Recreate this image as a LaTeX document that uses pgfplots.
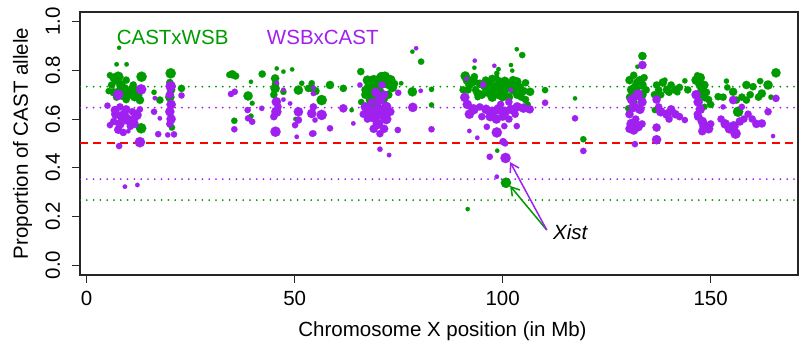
\documentclass[border=0pt]{standalone}
\usepackage{fontspec}
\setmainfont{Liberation Sans}
\usepackage{pgfplots}
\pgfplotsset{compat=1.18}
\usepackage{pgfplotstable}
\usetikzlibrary{arrows.meta}
\definecolor{cgreen}{RGB}{0,155,0}
\definecolor{cpurple}{RGB}{160,32,240}

\pgfplotstableread{
x y r
7.8 0.893 1.4
7.2 0.825 1.6
9.6 0.825 1.6
5.6 0.780 2.5
7.6 0.774 4.5
13.2 0.774 4.5
6.0 0.740 3
7.0 0.760 3.5
8.2 0.740 4
9.0 0.725 4
6.5 0.710 3.5
8.5 0.700 4.5
10.0 0.700 4
11.0 0.705 3.5
11.2 0.740 3
12.5 0.700 3
12.8 0.678 3.5
9.5 0.680 3
7.2 0.690 3
5.3 0.715 2.5
10.8 0.725 3
12.2 0.720 3
6.5 0.770 3.5
9.5 0.760 3
8.0 0.715 4
11.5 0.690 3.5
9.8 0.710 4
13.1 0.562 4.5
20.2 0.788 4.5
20.0 0.750 3
20.3 0.720 3.5
20.0 0.690 4
20.3 0.660 3.5
20.0 0.630 3
20.3 0.600 3
20.5 0.565 2.5
16.2 0.710 2
17.6 0.678 3
22.8 0.726 3
34.3 0.782 2.5
35.0 0.784 3.5
35.8 0.777 3
42.2 0.785 3
39.5 0.753 1.5
38.8 0.695 4
39.8 0.665 1.8
39.5 0.612 2
35.5 0.593 2.5
45.7 0.808 1.5
47.3 0.795 1.5
49.4 0.804 1.5
45.3 0.767 3.5
45.3 0.726 4
45.4 0.745 3
45.0 0.700 3
47.3 0.712 2.5
50.9 0.719 4
51.7 0.747 2
50.2 0.600 1.6
53.3 0.726 3
54.1 0.747 2.5
54.1 0.726 3
55.0 0.715 3.5
56.5 0.678 4.5
58.5 0.740 3.5
61.7 0.726 3
63.7 0.637 1.6
65.9 0.795 3
66.9 0.720 3
67.7 0.733 3.5
67.5 0.760 4
68.1 0.678 3.5
68.0 0.720 4.5
69.0 0.690 4.5
69.5 0.660 4
70.0 0.740 5
71.0 0.770 5
71.7 0.774 4.5
73.0 0.760 4.5
73.5 0.730 4
72.5 0.700 3.5
70.5 0.710 4
71.5 0.680 3
67.0 0.700 3.5
68.5 0.650 3
69.0 0.760 4.5
72.5 0.745 4.5
70.5 0.690 4
68.5 0.745 4
72.5 0.617 1.6
74.0 0.745 3
75.6 0.747 1.6
66.0 0.670 2.5
78.3 0.712 4
78.3 0.877 1.5
80.4 0.836 2.5
82.9 0.722 2
82.9 0.658 2
91.0 0.777 4
93.2 0.774 3
93.2 0.811 1.5
95.9 0.760 3
98.6 0.788 2
98.6 0.740 3
102.0 0.822 1.5
102.3 0.799 1.5
103.4 0.887 1.5
104.7 0.863 2.5
103.4 0.753 4
105.5 0.749 3
106.6 0.712 3.5
110.2 0.719 2.5
92.0 0.740 3.5
90.5 0.720 3
91.7 0.720 3
93.5 0.720 3
95.0 0.700 3.5
96.5 0.710 4
97.5 0.690 4
98.0 0.720 4.5
99.5 0.700 4.5
100.5 0.720 4
101.5 0.690 3.5
102.5 0.720 4
103.5 0.700 3.5
104.5 0.690 3
100.0 0.740 3
97.0 0.745 3
99.0 0.760 2.5
94.0 0.690 2.5
95.5 0.735 3
105.5 0.680 3
106.0 0.660 2.5
91.5 0.760 4
93.0 0.755 4
94.5 0.745 3.5
96.0 0.730 4
97.5 0.765 3.5
99.0 0.735 4.5
100.5 0.755 4
101.5 0.740 4
102.5 0.760 3.5
104.0 0.730 4
105.0 0.715 3.5
94.0 0.705 3.5
100.0 0.690 3.5
98.6 0.775 1.6
99.0 0.805 1.6
91.6 0.230 1.5
98.7 0.470 1.5
100.8 0.338 4.5
117.4 0.685 1.5
119.4 0.517 2.5
133.6 0.859 3.5
132.4 0.815 1.5
130.5 0.760 3.5
131.5 0.780 3
132.5 0.750 4
133.5 0.740 4
131.0 0.720 4
132.0 0.700 4.5
133.5 0.700 4
134.5 0.720 3
130.5 0.690 3
131.5 0.670 3
130.2 0.644 2.5
134.0 0.770 3
132.0 0.730 4.5
133.0 0.760 3.5
137.0 0.740 3
138.5 0.750 3.5
139.5 0.720 3.5
140.5 0.740 3
141.5 0.720 3.5
142.5 0.730 3
143.8 0.757 2
144.5 0.720 3
136.5 0.700 3
138.0 0.700 3
140.0 0.710 3
142.0 0.710 2.5
136.6 0.637 2.5
137.5 0.720 3
139.0 0.760 2
146.5 0.760 4
147.5 0.740 4
148.0 0.720 4
147.0 0.700 3.5
148.5 0.690 3.5
149.0 0.710 3
149.5 0.680 3
150.0 0.660 3
148.5 0.650 2.5
146.8 0.780 2.5
147.5 0.770 4
148.5 0.740 3.5
151.8 0.692 3
153.0 0.690 3
153.8 0.756 2
154.0 0.730 2.5
155.4 0.712 3.5
156.2 0.678 3
156.6 0.630 4.5
157.5 0.690 3
158.6 0.740 3.5
158.6 0.678 3
159.5 0.700 3
160.2 0.733 3
161.9 0.756 2.5
161.5 0.690 3
162.3 0.705 3.5
163.8 0.740 4
165.7 0.790 4
164.5 0.690 2
}\greendata

\pgfplotstableread{
x y r
7.6 0.700 4.5
13.1 0.722 4.5
5.0 0.655 2.5
6.8 0.637 3.5
8.0 0.650 3
9.5 0.640 3.5
7.0 0.620 4
8.5 0.610 4.5
10.0 0.596 4.5
11.5 0.600 3
12.0 0.617 4.5
12.8 0.640 2.5
5.6 0.575 2.5
7.6 0.556 3.5
8.8 0.545 3
10.0 0.550 1.6
6.5 0.590 3
11.0 0.630 3
9.0 0.620 4
8.0 0.580 4
10.5 0.570 3
11.5 0.580 3.5
12.8 0.505 4.5
7.8 0.489 2.5
9.2 0.322 1.6
12.2 0.329 1.6
16.2 0.630 2.5
16.4 0.686 1.6
17.6 0.603 1.6
17.2 0.538 2.5
19.5 0.535 2
21.0 0.537 2.5
20.2 0.735 4.5
20.0 0.700 3.5
20.3 0.660 4
20.0 0.630 4
20.3 0.600 4
20.0 0.580 3
22.8 0.697 2.5
35.6 0.712 2.5
34.7 0.703 2.5
38.7 0.637 2.5
38.8 0.603 2.5
39.8 0.589 2.5
35.5 0.558 2.5
42.1 0.644 2
45.7 0.749 1.6
45.6 0.671 4
45.6 0.630 4.5
47.3 0.680 1.6
47.3 0.720 1.6
48.9 0.664 1.6
45.4 0.548 4.5
50.9 0.630 4
50.9 0.596 3
50.1 0.575 2.5
50.5 0.527 1.6
54.5 0.705 2
54.5 0.730 1.6
54.5 0.650 3
54.1 0.623 4
56.5 0.617 4.5
54.5 0.541 2.5
54.2 0.540 2.5
54.9 0.596 2
58.5 0.562 2.5
61.7 0.644 3.5
64.1 0.582 1.6
45.0 0.610 3
46.0 0.650 3
65.7 0.740 2
67.0 0.650 4
68.0 0.630 5
69.0 0.610 5
70.0 0.640 5
71.0 0.620 5
72.0 0.650 4.5
70.5 0.680 4.5
69.5 0.710 4
71.0 0.740 3
72.0 0.600 4.5
70.0 0.580 4.5
69.0 0.560 3.5
71.5 0.560 3.5
70.5 0.540 3
73.0 0.630 3.5
67.5 0.600 3
66.5 0.620 3
70.5 0.476 2
72.7 0.452 1.6
74.9 0.708 2.5
74.8 0.555 2.5
78.4 0.648 4
80.3 0.716 1.6
79.2 0.891 1.5
82.9 0.558 2.5
71.5 0.700 3.5
68.5 0.670 3
93.3 0.840 1.5
98.0 0.819 1.5
91.3 0.765 1.6
95.3 0.742 2.5
102.0 0.719 1.6
90.9 0.689 4
91.5 0.660 4
93.0 0.640 4.5
92.0 0.620 4
94.5 0.650 3
96.0 0.640 4
97.5 0.630 4.5
99.0 0.640 4.5
100.5 0.630 4.5
102.0 0.640 4
103.5 0.650 4
105.0 0.645 4
106.5 0.640 3.5
97.0 0.610 4
98.5 0.600 4
100.0 0.610 3.5
101.5 0.600 3
95.0 0.610 3
103.0 0.620 3
99.5 0.660 3
101.5 0.670 3
92.0 0.551 1.6
93.9 0.523 1.6
96.2 0.568 2.5
98.6 0.545 4.5
100.4 0.571 2.5
103.4 0.571 2.5
100.1 0.507 3
100.6 0.500 2.5
96.9 0.445 2.5
100.7 0.440 4.5
98.6 0.363 1.6
110.2 0.667 2.5
117.4 0.603 2.5
119.4 0.469 2.5
133.6 0.822 3.5
131.0 0.680 4
132.5 0.700 4.5
133.5 0.670 4
131.5 0.650 4.5
133.0 0.640 4
130.5 0.620 3.5
132.0 0.600 3
131.0 0.580 4.5
132.5 0.570 4.5
131.5 0.555 4
130.5 0.560 3.5
133.5 0.580 3
131.8 0.497 2.5
137.0 0.680 3.5
137.5 0.650 3
138.0 0.630 4
139.5 0.620 4
140.5 0.640 3.5
141.5 0.620 3.5
142.5 0.610 3
143.8 0.596 2.5
140.0 0.600 3
137.0 0.565 3.5
137.0 0.515 4
146.5 0.700 4
147.0 0.670 4
147.5 0.640 4
147.0 0.610 3.5
148.0 0.590 4
148.5 0.570 4.5
149.5 0.560 4
148.0 0.550 3.5
150.0 0.580 3
146.8 0.620 3
152.5 0.600 3
153.5 0.580 4
154.5 0.560 4
155.5 0.570 4.5
156.0 0.540 4.5
157.0 0.590 3.5
155.4 0.678 3.5
158.0 0.600 3
159.0 0.620 3
160.0 0.600 3
161.0 0.580 3.5
162.3 0.582 3.5
163.8 0.630 3
165.7 0.685 3
165.0 0.530 1.5
153.0 0.650 2
157.5 0.650 2.5
}\purpledata

\begin{document}
\fontsize{20.5}{24.6}\selectfont
\begin{tikzpicture}[font=\fontsize{20.5}{24.6}\selectfont]
\begin{axis}[
  scale only axis, width=718pt, height=263pt,
  xmin=-1.6, xmax=171, ymin=-0.041, ymax=1.04,
  axis line style={line width=1.2pt, black!85},
  xtick={0,50,100,150},
  ytick={0,0.2,0.4,0.6,0.8,1.0},
  yticklabels={0.0,0.2,0.4,0.6,0.8,1.0},
  tick pos=left, tick align=outside, major tick length=8pt,
  every tick/.style={line width=1pt, black!85},
  /pgf/number format/assume math mode=true,
  xticklabel style={yshift=-22pt, anchor=base},
  yticklabel style={xshift=-12pt, rotate=90, anchor=base},
  every axis x label/.style={at={(rel axis cs:0.5,0)}, xshift=3.5pt, yshift=-61.5pt, anchor=base},
  every axis y label/.style={at={(rel axis cs:0,0.5)}, xshift=-52pt, rotate=90, anchor=base},
  xlabel={Chromosome X position (in Mb)},
  ylabel={Proportion of CAST allele},
]
\addplot[cgreen, line width=2pt, line cap=round, dash pattern=on 0pt off 6.8pt] coordinates {(-1.6,0.733) (171,0.733)};
\addplot[cgreen, line width=2pt, line cap=round, dash pattern=on 0pt off 6.8pt] coordinates {(-1.6,0.267) (171,0.267)};
\addplot[cpurple, line width=2pt, line cap=round, dash pattern=on 0pt off 6.8pt] coordinates {(-1.6,0.647) (171,0.647)};
\addplot[cpurple, line width=2pt, line cap=round, dash pattern=on 0pt off 6.8pt] coordinates {(-1.6,0.353) (171,0.353)};
\addplot[red, line width=2pt, dash pattern=on 8pt off 5.3pt] coordinates {(-1.6,0.5) (171,0.5)};

\addplot[cgreen, scatter, only marks, mark=*,
  mark options={draw=cgreen, fill=cgreen, line width=0.1pt},
  scatter/use mapped color={draw=cgreen, fill=cgreen},
  visualization depends on={\thisrow{r}\as\perpointmarksize},
  scatter/@pre marker code/.append style={/tikz/mark size=0.7+1.0*\perpointmarksize}] table[x=x,y=y] {\greendata};
\addplot[cpurple, scatter, only marks, mark=*,
  mark options={draw=cpurple, fill=cpurple, line width=0.1pt},
  scatter/use mapped color={draw=cpurple, fill=cpurple},
  visualization depends on={\thisrow{r}\as\perpointmarksize},
  scatter/@pre marker code/.append style={/tikz/mark size=0.7+1.0*\perpointmarksize}] table[x=x,y=y] {\purpledata};

\node[anchor=base west, inner sep=0pt, text=cgreen] at (axis cs:7.2,0.907) {CASTxWSB};
\node[anchor=base west, inner sep=0pt, text=cpurple] at (axis cs:43.3,0.907) {WSBxCAST};
\node[anchor=base west, inner sep=0pt, font=\fontsize{20.5}{24.6}\selectfont\itshape] at (axis cs:112.1,0.103) {Xist};
\draw[cgreen, line width=1.5pt, -{Straight Barb[length=8pt,width=10pt]}] (axis cs:110.6,0.144) -- (axis cs:101.8,0.325);
\draw[cpurple, line width=1.5pt, -{Straight Barb[length=8pt,width=10pt]}] (axis cs:110.6,0.144) -- (axis cs:101.8,0.423);
\end{axis}
\pgfresetboundingbox
\path[use as bounding box] ([xshift=-80pt,yshift=-71pt]current axis.south west) rectangle ++(800pt,346pt);
\end{tikzpicture}
\end{document}
